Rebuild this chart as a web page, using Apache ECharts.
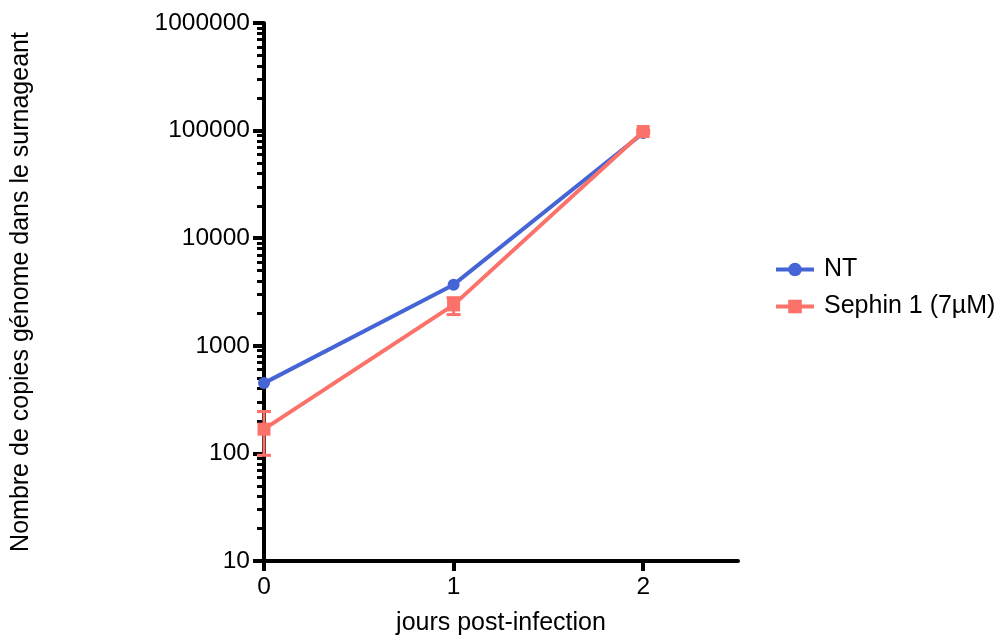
<!DOCTYPE html>
<html>
<head>
<meta charset="utf-8">
<script src="https://cdn.jsdelivr.net/npm/echarts@6/dist/echarts.min.js"></script>
<style>html,body{margin:0;padding:0;background:#fff}#main{width:1002px;height:637px}</style>
</head>
<body>
<div id="main"></div>
<script>
var days = [0, 1, 2];
var ntValues = [450, 3700, 95000];
var sephinValues = [168, 2400, 98000];
var sephinLow = [96, 1950, 95000];
var sephinHigh = [245, 2800, 101000];
var majorTicks = [10, 100, 1000, 10000, 100000, 1000000];
var minorTicks = [];
for (var d = 10; d < 1000000; d *= 10) {
    for (var k = 2; k <= 9; k++) minorTicks.push(d * k);
}

var myChart = echarts.init(document.getElementById('main'));
var font = 'Liberation Sans, Arial, sans-serif';

function pair(xs, ys) {
    return xs.map(function (x, i) { return [x, ys[i]]; });
}

var option = {
    animation: false,
    grid: { left: 264, right: 264, top: 23, bottom: 76, outerBoundsMode: 'none' },
    legend: {
        orient: 'vertical',
        left: 769,
        top: 252,
        itemWidth: 38,
        itemHeight: 17,
        itemGap: 12,
        lineStyle: { width: 4 },
        textStyle: { fontSize: 25, color: '#000', fontFamily: font, padding: [0, 0, 0, 5] },
        data: ['NT', 'Sephin 1 (7µM)']
    },
    xAxis: {
        type: 'value',
        min: 0,
        max: 2.5,
        interval: 1,
        name: 'jours post-infection',
        nameLocation: 'middle',
        nameGap: 50,
        nameTextStyle: { fontSize: 25, color: '#000', fontFamily: font },
        splitLine: { show: false },
        axisLine: { onZero: false, lineStyle: { color: '#000', width: 4 } },
        axisTick: { customValues: days, length: 10, lineStyle: { color: '#000', width: 4 } },
        axisLabel: { customValues: days, fontSize: 24.5, color: '#000', fontFamily: font, margin: 14 }
    },
    yAxis: [{
        type: 'log',
        min: 10,
        max: 1000000,
        name: 'Nombre de copies génome dans le surnageant',
        nameLocation: 'middle',
        nameGap: 230,
        nameRotate: 90,
        nameTextStyle: { fontSize: 25, color: '#000', fontFamily: font },
        splitLine: { show: false },
        axisLine: { show: true, lineStyle: { color: '#000', width: 4 } },
        axisTick: { customValues: majorTicks, length: 11, lineStyle: { color: '#000', width: 4 } },
        axisLabel: {
            customValues: majorTicks,
            fontSize: 24.5, color: '#000', fontFamily: font, margin: 14,
            formatter: function (v) { return String(Math.round(v)); }
        }
    }, {
        type: 'log',
        min: 10,
        max: 1000000,
        position: 'left',
        splitLine: { show: false },
        axisLine: { show: false },
        axisTick: { customValues: minorTicks, length: 7, lineStyle: { color: '#000', width: 3 } },
        axisLabel: { show: false }
    }],
    series: [{
        name: 'NT',
        type: 'line',
        data: pair(days, ntValues),
        symbol: 'circle',
        symbolSize: 12,
        color: '#4565d6',
        lineStyle: { width: 4 },
        z: 3
    }, {
        name: 'err',
        type: 'custom',
        data: days.map(function (x, i) { return [x, sephinLow[i], sephinHigh[i]]; }),
        renderItem: function (params, api) {
            var lo = api.coord([api.value(0), api.value(1)]);
            var hi = api.coord([api.value(0), api.value(2)]);
            var w = 7;
            var st = { stroke: '#fa7269', lineWidth: 3 };
            return {
                type: 'group',
                children: [
                    { type: 'line', shape: { x1: lo[0], y1: lo[1], x2: hi[0], y2: hi[1] }, style: st },
                    { type: 'line', shape: { x1: lo[0] - w, y1: lo[1], x2: lo[0] + w, y2: lo[1] }, style: st },
                    { type: 'line', shape: { x1: hi[0] - w, y1: hi[1], x2: hi[0] + w, y2: hi[1] }, style: st }
                ]
            };
        },
        encode: { x: 0, y: [1, 2] },
        z: 4,
        silent: true
    }, {
        name: 'Sephin 1 (7µM)',
        type: 'line',
        data: pair(days, sephinValues),
        symbol: 'rect',
        symbolSize: 13,
        color: '#fa7269',
        lineStyle: { width: 4 },
        z: 5
    }]
};

myChart.setOption(option);
</script>
</body>
</html>
